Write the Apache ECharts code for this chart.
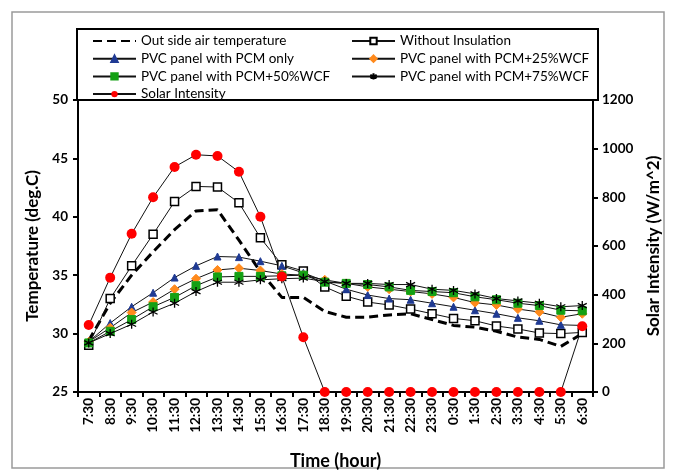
<!DOCTYPE html>
<html>
<head>
<meta charset="utf-8">
<script src="https://cdn.jsdelivr.net/npm/echarts@6/dist/echarts.min.js"></script>
<style>
  html, body { margin: 0; padding: 0; background: #fff; }
  #chart { width: 675px; height: 472px; }
</style>
</head>
<body>
<div id="chart"></div>
<script>
// Hourly readings over one day (7:30 to 6:30 next morning)
const hours = ['7:30','8:30','9:30','10:30','11:30','12:30','13:30','14:30','15:30','16:30','17:30',
  '18:30','19:30','20:30','21:30','22:30','23:30','0:30','1:30','2:30','3:30','4:30','5:30','6:30'];

// Temperatures, deg.C
const outsideAir = [29.4, 32.6, 35.0, 37.0, 38.9, 40.5, 40.6, 38.0, 35.3, 33.1, 33.1, 31.9,
  31.4, 31.4, 31.6, 31.7, 31.2, 30.7, 30.55, 30.2, 29.7, 29.5, 28.9, 30.0];
const withoutInsulation = [29.0, 33.0, 35.8, 38.5, 41.3, 42.6, 42.55, 41.2, 38.2, 35.9, 35.36, 34.0,
  33.2, 32.7, 32.45, 32.1, 31.7, 31.3, 31.1, 30.65, 30.4, 30.05, 30.0, 30.1];
const pcmOnly = [29.3, 30.9, 32.3, 33.5, 34.8, 35.8, 36.6, 36.55, 36.2, 35.8, 35.2, 34.5,
  33.8, 33.3, 33.0, 32.9, 32.6, 32.3, 32.0, 31.7, 31.35, 31.1, 30.75, 30.7];
const pcm25 = [29.3, 30.5, 31.8, 32.7, 33.8, 34.7, 35.45, 35.6, 35.4, 35.1, 35.0, 34.6,
  34.3, 34.0, 33.8, 33.6, 33.4, 33.1, 32.65, 32.45, 32.1, 31.85, 31.4, 31.7];
const pcm50 = [29.2, 30.2, 31.2, 32.3, 33.1, 34.1, 34.85, 34.9, 34.9, 34.95, 35.0, 34.4,
  34.3, 34.2, 34.0, 33.7, 33.6, 33.5, 33.15, 32.9, 32.6, 32.4, 32.0, 31.95];
const pcm75 = [29.2, 30.0, 30.8, 31.85, 32.6, 33.6, 34.4, 34.4, 34.6, 34.7, 34.75, 34.45,
  34.3, 34.3, 34.2, 34.2, 33.8, 33.7, 33.4, 33.0, 32.8, 32.6, 32.3, 32.4];

// Solar intensity, W/m^2
const solar = [275, 470, 650, 800, 925, 975, 970, 905, 720, 475, 225, 0,
  0, 0, 0, 0, 0, 0, 0, 0, 0, 0, 0, 270];

const tempTicks = [25, 50, 5];      // min, max, step
const solarTicks = [0, 1200, 200];  // min, max, step

const FONT = 'Lato, "Liberation Sans", sans-serif';
const STAR = 'path://M5,0L5,10M0.7,2.5L9.3,7.5M0.7,7.5L9.3,2.5';

const chart = echarts.init(document.getElementById('chart'), null, { renderer: 'canvas' });

function tempLine(name, data, symbol, size, fill, border, extra) {
  return Object.assign({
    name: name,
    type: 'line',
    data: data,
    yAxisIndex: 0,
    symbol: symbol,
    symbolSize: size,
    showAllSymbol: true,
    lineStyle: { color: '#111', width: 1 },
    itemStyle: { color: fill, borderColor: border, borderWidth: 1 },
    emphasis: { disabled: true },
    animation: false
  }, extra || {});
}

const legendText = { fontFamily: FONT, fontSize: 13.5, color: '#000', fontWeight: 'normal', lineHeight: 13 };
const legendCommon = {
  orient: 'vertical', top: 34, itemWidth: 43, itemHeight: 8, itemGap: 3.7,
  textStyle: legendText, z: 10, selectedMode: false, padding: 0
};

const axisNameStyle = { fontFamily: FONT, fontSize: 17, fontWeight: 'bold', color: '#000' };
const tickLabelStyle = { fontFamily: FONT, fontSize: 13.5, fontWeight: 'bold', color: '#000' };

chart.setOption({
  backgroundColor: '#fff',
  animation: false,
  graphic: [
    { type: 'rect', shape: { x: 12, y: 12, width: 652, height: 456 },
      style: { fill: 'none', stroke: '#9a9a9a', lineWidth: 1.5 }, z: -10 },
    { type: 'rect', shape: { x: 77, y: 29, width: 521, height: 71 },
      style: { fill: '#fff', stroke: '#000', lineWidth: 2 }, z: 5 }
  ],
  legend: [
    Object.assign({}, legendCommon, {
      left: 92,
      data: [
        { name: 'Out side air temperature', itemStyle: { opacity: 0 } },
        'PVC panel with PCM only', 'PVC panel with PCM+50%WCF', 'Solar Intensity'
      ]
    }),
    Object.assign({}, legendCommon, {
      left: 351,
      data: ['Without Insulation', 'PVC panel with PCM+25%WCF', 'PVC panel with PCM+75%WCF']
    })
  ],
  grid: {
    left: 78, right: 82, top: 100, bottom: 80,
    outerBoundsMode: 'none', containLabel: false,
    show: true, borderColor: '#000', borderWidth: 2, backgroundColor: 'transparent'
  },
  xAxis: {
    type: 'category',
    data: hours,
    boundaryGap: true,
    name: 'Time (hour)',
    nameLocation: 'middle',
    nameGap: 60,
    nameTextStyle: Object.assign({}, axisNameStyle, { fontSize: 18 }),
    axisLine: { lineStyle: { color: '#000', width: 2 } },
    axisTick: { show: true, inside: false, length: 5, lineStyle: { color: '#000', width: 2 } },
    axisLabel: Object.assign({ rotate: 90, interval: 0, margin: 6 }, tickLabelStyle),
    splitLine: { show: false }
  },
  yAxis: [
    {
      type: 'value', position: 'left',
      min: tempTicks[0], max: tempTicks[1], interval: tempTicks[2],
      name: 'Temperature (deg.C)', nameLocation: 'middle', nameGap: 35, nameRotate: 90,
      nameTextStyle: axisNameStyle,
      axisLine: { show: true, lineStyle: { color: '#000', width: 2 } },
      axisTick: { show: true, inside: false, length: 5, lineStyle: { color: '#000', width: 2 } },
      axisLabel: Object.assign({ margin: 10, formatter: v => String(v) }, tickLabelStyle),
      splitLine: { show: false }
    },
    {
      type: 'value', position: 'right',
      min: solarTicks[0], max: solarTicks[1], interval: solarTicks[2],
      name: 'Solar Intensity (W/m^2)', nameLocation: 'middle', nameGap: 52, nameRotate: 90,
      nameTextStyle: axisNameStyle,
      axisLine: { show: true, lineStyle: { color: '#000', width: 2 } },
      axisTick: { show: true, inside: false, length: 5, lineStyle: { color: '#000', width: 2 } },
      axisLabel: Object.assign({ margin: 9, formatter: v => String(v) }, tickLabelStyle),
      splitLine: { show: false }
    }
  ],
  series: [
    tempLine('Out side air temperature', outsideAir, 'none', 0, '#000', '#000', {
      lineStyle: { color: '#000', width: 3, type: [9, 5] }
    }),
    tempLine('Without Insulation', withoutInsulation, 'rect', 8, '#fff', '#000', {
      itemStyle: { color: '#fff', borderColor: '#000', borderWidth: 1.5 }
    }),
    tempLine('PVC panel with PCM only', pcmOnly, 'triangle', 7, '#1f3a93', '#1f3a93'),
    tempLine('PVC panel with PCM+25%WCF', pcm25, 'diamond', 9, '#ff8a1c', '#ff8a1c'),
    tempLine('PVC panel with PCM+50%WCF', pcm50, 'rect', 8, '#14a014', '#14a014'),
    tempLine('PVC panel with PCM+75%WCF', pcm75, STAR, 9, 'none', '#000', {
      itemStyle: { color: 'none', borderColor: '#000', borderWidth: 1.3 }
    }),
    {
      name: 'Solar Intensity',
      type: 'line',
      data: solar,
      yAxisIndex: 1,
      symbol: 'circle',
      symbolSize: 10,
      showAllSymbol: true,
      lineStyle: { color: '#111', width: 1 },
      itemStyle: { color: '#ff0000', borderColor: '#ff0000', borderWidth: 0 },
      emphasis: { disabled: true },
      z: 3,
      animation: false
    }
  ]
});
</script>
</body>
</html>
